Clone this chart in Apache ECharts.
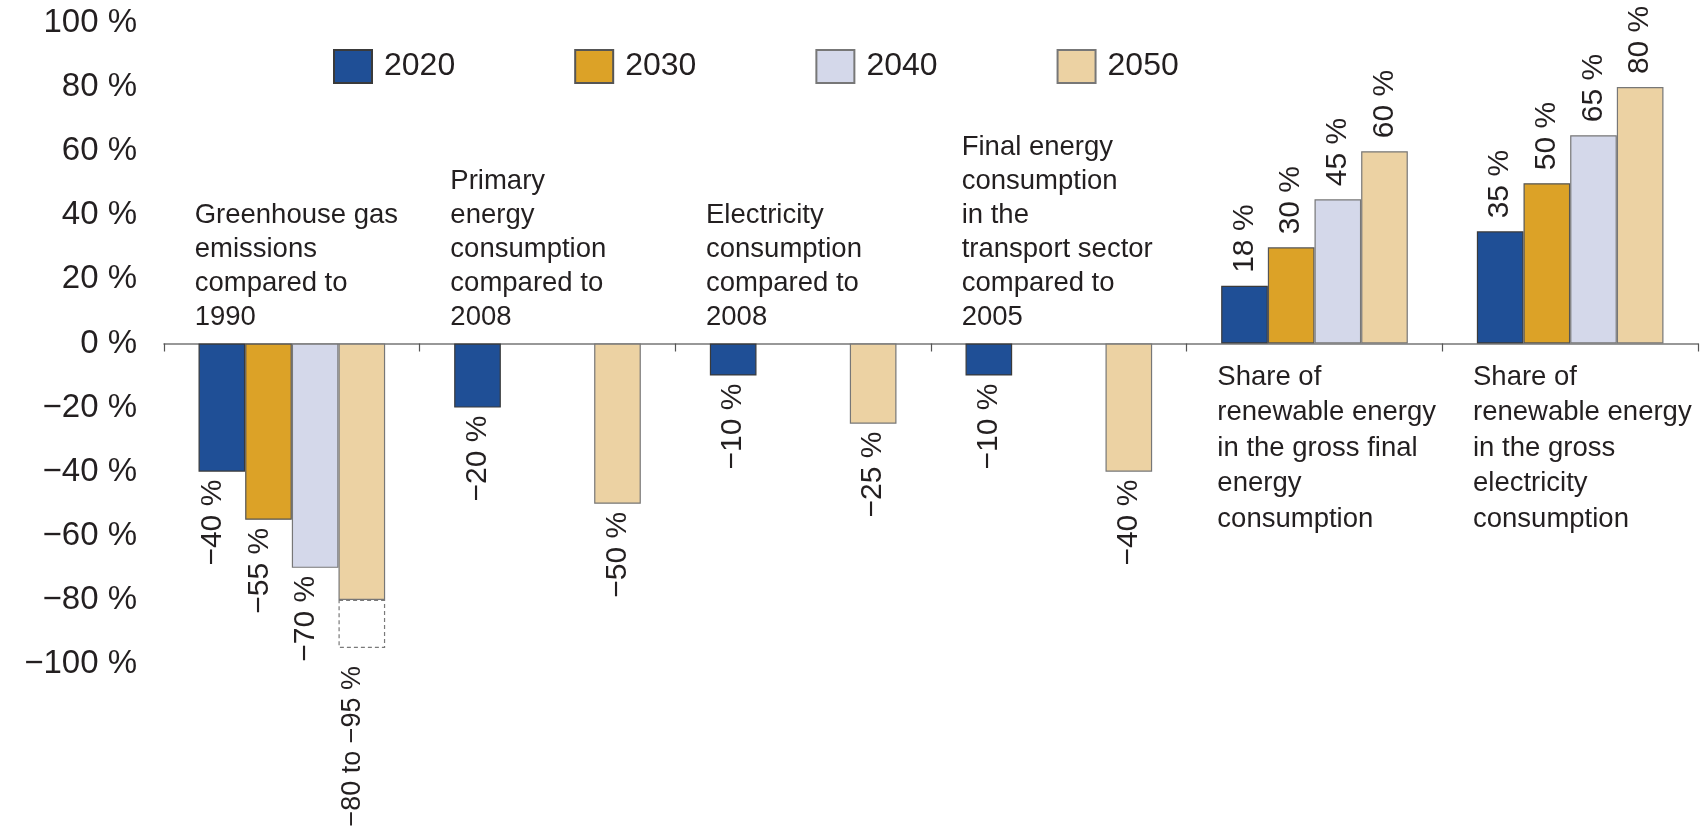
<!DOCTYPE html>
<html>
<head>
<meta charset="utf-8">
<title>Energy targets 2020–2050</title>
<script src="https://cdn.jsdelivr.net/npm/echarts@6/dist/echarts.min.js"></script>
<style>
  html, body { margin: 0; padding: 0; background: #ffffff; }
  #chart { width: 1706px; height: 831px; }
</style>
</head>
<body>
<div id="chart"></div>
<script>
// Targets relative to the reference year (negative) or shares (positive), in percent
const categories = [
  'Greenhouse gas\nemissions\ncompared to\n1990',
  'Primary\nenergy\nconsumption\ncompared to\n2008',
  'Electricity\nconsumption\ncompared to\n2008',
  'Final energy\nconsumption\nin the\ntransport sector\ncompared to\n2005',
  'Share of\nrenewable energy\nin the gross final\nenergy\nconsumption',
  'Share of\nrenewable energy\nin the gross\nelectricity\nconsumption'
];
// category text sits above the zero line for reductions, below it for shares
const labelAbove = [true, true, true, true, false, false];

const years = ['2020', '2030', '2040', '2050'];
const values2020 = [-40, -20, -10, -10, 18, 35];
const values2030 = [-55, null, null, null, 30, 50];
const values2040 = [-70, null, null, null, 45, 65];
const values2050 = [-80, -50, -25, -40, 60, 80];
// lower end of the 2050 target range (greenhouse gas: -80 to -95 %)
const range2050Low = [-95, null, null, null, null, null];

const yTicks = { min: -100, max: 100, step: 20 };

const colors = ['#1f4f96', '#dca227', '#d4d8ea', '#ecd2a3'];
const borderColors = ['#3a3a3a', '#555555', '#777777', '#777777'];
const FONT = 'Liberation Sans, Arial, sans-serif';
const TEXT = '#231f20';

const pct = v => (v < 0 ? '\u2212' + Math.abs(v) : String(v)) + ' %';

// value labels are rotated, so the offset is given in the text's own frame;
// those of the first group sit slightly left of the bar centres
function labelFor(v, i, show) {
  const l = {
    show: show,
    align: v < 0 ? 'right' : 'left',
    distance: v < 0 ? 8 : 13
  };
  if (i === 0) l.offset = [0, -9];
  return l;
}

function barData(vals, hideAt) {
  return vals.map((v, i) => {
    if (v == null) return null;
    return { value: v, label: labelFor(v, i, !(hideAt && hideAt[i] != null)) };
  });
}

const barLabel = {
  show: true,
  position: 'outside',
  rotate: 90,
  verticalAlign: 'middle',
  distance: 8,
  fontSize: 30,
  fontFamily: FONT,
  color: TEXT,
  formatter: p => pct(p.value)
};

const seriesValues = [values2020, values2030, values2040, values2050];
const series = seriesValues.map((vals, k) => ({
  name: years[k],
  type: 'bar',
  stack: k === 3 ? 'y2050' : undefined,
  data: barData(vals, k === 3 ? range2050Low : null),
  itemStyle: { color: colors[k], borderColor: borderColors[k], borderWidth: 1.2 },
  label: barLabel,
  barGap: '0%',
  barCategoryGap: '27%',
  emphasis: { disabled: true }
}));

// dashed extension showing the lower end of the 2050 range
series.push({
  name: 'range2050',
  type: 'bar',
  stack: 'y2050',
  data: range2050Low.map((low, i) => {
    if (low == null) return null;
    const l = labelFor(low, i, true);
    l.distance = 18;
    return { value: low - values2050[i], label: l };
  }),
  itemStyle: { color: 'rgba(255,255,255,0)', borderColor: '#7a7a7a', borderWidth: 1.2, borderType: [4, 3] },
  label: Object.assign({}, barLabel, {
    fontSize: 27,
    formatter: p => pct(values2050[p.dataIndex]).replace(' %', '') + ' to ' + pct(range2050Low[p.dataIndex])
  }),
  barGap: '0%',
  barCategoryGap: '27%',
  emphasis: { disabled: true }
});

const option = {
  backgroundColor: '#ffffff',
  animation: false,
  grid: { left: 164, right: 8, top: 23, bottom: 167, containLabel: false },
  legend: {
    data: years,
    left: 333,
    top: 49,
    padding: 0,
    orient: 'horizontal',
    icon: 'rect',
    itemWidth: 38,
    itemHeight: 33,
    itemGap: 119,
    selectedMode: false,
    textStyle: { fontSize: 32, fontFamily: FONT, color: TEXT, padding: [0, 0, 0, 7] }
  },
  xAxis: {
    type: 'category',
    data: categories,
    axisLine: { onZero: true, lineStyle: { color: '#777777', width: 1.5 } },
    axisTick: { show: true, length: 8, lineStyle: { color: '#555555', width: 1.2 } },
    axisLabel: { show: false },
    splitLine: { show: false }
  },
  yAxis: {
    type: 'value',
    min: yTicks.min,
    max: yTicks.max,
    interval: yTicks.step,
    axisLine: { show: false },
    axisTick: { show: false },
    splitLine: { show: false },
    axisLabel: {
      margin: 27,
      fontSize: 33,
      fontFamily: FONT,
      color: TEXT,
      formatter: v => pct(v)
    }
  },
  series: series
};

const chart = echarts.init(document.getElementById('chart'), null, { renderer: 'canvas' });
chart.setOption(option);

// category descriptions, placed from the axis scale
const c0 = chart.convertToPixel({ xAxisIndex: 0 }, categories[0]);
const c1 = chart.convertToPixel({ xAxisIndex: 0 }, categories[1]);
const band = c1 - c0;
const zeroY = chart.convertToPixel({ yAxisIndex: 0 }, 0);

chart.setOption({
  graphic: categories.map((name, i) => {
    const cx = chart.convertToPixel({ xAxisIndex: 0 }, name);
    const above = labelAbove[i];
    return {
      type: 'text',
      x: cx - band * 0.38,
      y: above ? zeroY - 9 : zeroY + 16,
      silent: true,
      style: {
        text: name,
        fontSize: 27.5,
        fontFamily: FONT,
        fill: TEXT,
        lineHeight: above ? 34 : 35.5,
        align: 'left',
        verticalAlign: above ? 'bottom' : 'top'
      }
    };
  })
});
</script>
</body>
</html>
